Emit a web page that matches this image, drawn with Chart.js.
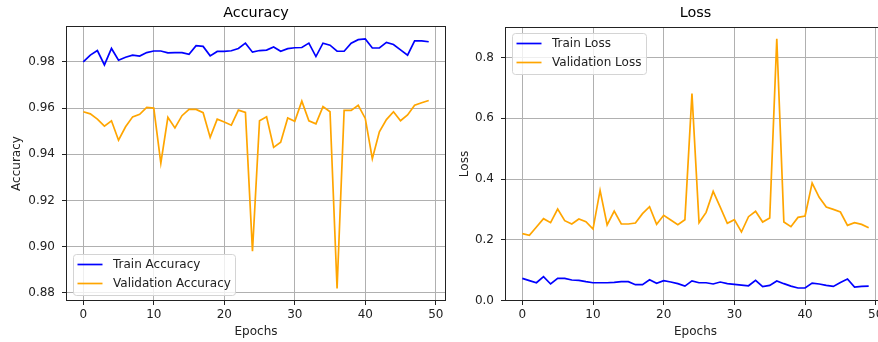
<!DOCTYPE html>
<html>
<head>
<meta charset="utf-8">
<title>Accuracy / Loss</title>
<script src="https://cdn.jsdelivr.net/npm/chart.js@4.4.1/dist/chart.umd.min.js"></script>
<style>
  html, body { margin: 0; padding: 0; background: #fff; overflow: hidden; }
  #accChart { position: absolute; left: 0; top: 0; }
  #lossChart { position: absolute; left: 452px; top: 0; }
</style>
</head>
<body>
<canvas id="accChart" width="452" height="342"></canvas>
<canvas id="lossChart" width="438" height="342"></canvas>
<script>
// epochs 0..49
const epochs = [0, 1, 2, 3, 4, 5, 6, 7, 8, 9,
    10, 11, 12, 13, 14, 15, 16, 17, 18, 19,
    20, 21, 22, 23, 24, 25, 26, 27, 28, 29,
    30, 31, 32, 33, 34, 35, 36, 37, 38, 39,
    40, 41, 42, 43, 44, 45, 46, 47, 48, 49];

const trainAcc = [0.9800, 0.9829, 0.9849, 0.9787, 0.9858, 0.9807, 0.9820, 0.9829, 0.9825, 0.9840,
    0.9847, 0.9847, 0.9839, 0.9840, 0.9840, 0.9833, 0.9870, 0.9867, 0.9826, 0.9845,
    0.9845, 0.9848, 0.9858, 0.9881, 0.9842, 0.9849, 0.9851, 0.9864, 0.9846, 0.9857,
    0.9861, 0.9862, 0.9881, 0.9823, 0.9881, 0.9872, 0.9846, 0.9846, 0.9881, 0.9896,
    0.9899, 0.9860, 0.9860, 0.9884, 0.9875, 0.9852, 0.9829, 0.9891, 0.9891, 0.9887];

const valAcc = [0.9584, 0.9575, 0.9552, 0.9522, 0.9545, 0.9461, 0.9519, 0.9562, 0.9573, 0.9603,
    0.9600, 0.9362, 0.9560, 0.9514, 0.9567, 0.9594, 0.9594, 0.9580, 0.9473, 0.9552,
    0.9540, 0.9526, 0.9591, 0.9581, 0.8981, 0.9545, 0.9562, 0.9430, 0.9452, 0.9557,
    0.9543, 0.9630, 0.9545, 0.9532, 0.9606, 0.9584, 0.8819, 0.9590, 0.9590, 0.9612,
    0.9555, 0.9381, 0.9497, 0.9550, 0.9584, 0.9545, 0.9570, 0.9612, 0.9623, 0.9633];

const trainLoss = [0.0735, 0.0660, 0.0590, 0.0790, 0.0550, 0.0735, 0.0735, 0.0680, 0.0670, 0.0625,
    0.0590, 0.0590, 0.0590, 0.0600, 0.0625, 0.0625, 0.0526, 0.0526, 0.0690, 0.0570,
    0.0660, 0.0614, 0.0560, 0.0480, 0.0650, 0.0590, 0.0590, 0.0550, 0.0614, 0.0560,
    0.0537, 0.0515, 0.0490, 0.0670, 0.0460, 0.0504, 0.0650, 0.0560, 0.0480, 0.0417,
    0.0417, 0.0580, 0.0550, 0.0504, 0.0470, 0.0600, 0.0712, 0.0450, 0.0470, 0.0480];

const valLoss = [0.2204, 0.2149, 0.2423, 0.2697, 0.2566, 0.3015, 0.2632, 0.2522, 0.2686, 0.2599,
    0.2357, 0.3629, 0.2490, 0.2950, 0.2522, 0.2522, 0.2555, 0.2862, 0.3092, 0.2510,
    0.2807, 0.2654, 0.2500, 0.2664, 0.6810, 0.2566, 0.2905, 0.3596, 0.3080, 0.2544,
    0.2664, 0.2259, 0.2763, 0.2939, 0.2588, 0.2719, 0.8610, 0.2588, 0.2434, 0.2740,
    0.2785, 0.3870, 0.3400, 0.3080, 0.3004, 0.2917, 0.2478, 0.2566, 0.2510, 0.2401];

const xTicks = [0, 10, 20, 30, 40, 50];
const accTicks = [0.88, 0.90, 0.92, 0.94, 0.96, 0.98];
const lossTicks = [0.0, 0.2, 0.4, 0.6, 0.8];

Chart.defaults.font.family = '"DejaVu Sans", sans-serif';
Chart.defaults.color = '#222';

const TEXT = '#222';
const GRID = '#b0b0b0';
const FONT_SIZE = 12;

// four black spines round the plot area, like matplotlib
const frame = {
    id: 'frame',
    afterDatasetsDraw(chart) {
        const a = chart.chartArea;
        const ctx = chart.ctx;
        ctx.save();
        ctx.strokeStyle = '#222';
        ctx.lineWidth = 1;
        ctx.strokeRect(Math.round(a.left) + 0.5, Math.round(a.top) + 0.5,
            Math.round(a.right - a.left) - 1, Math.round(a.bottom - a.top) - 1);
        ctx.restore();
    }
};

// legend box drawn inside the plot area
const insideLegend = {
    id: 'insideLegend',
    afterDraw(chart, args, opts) {
        const a = chart.chartArea;
        const ctx = chart.ctx;
        const sets = chart.data.datasets;
        ctx.save();
        ctx.font = FONT_SIZE + 'px "DejaVu Sans", sans-serif';
        const textW = Math.max(...sets.map((d) => ctx.measureText(d.label).width));
        const w = Math.round(39.5 + textW + 5);
        const h = 41;
        const x = Math.round(a.left + 7) + 0.5;
        const y = opts.corner === 'upper' ? Math.round(a.top + 6) + 0.5 : Math.round(a.bottom - 6 - h) + 0.5;
        ctx.fillStyle = 'rgba(255,255,255,0.8)';
        ctx.strokeStyle = '#d4d4d4';
        ctx.lineWidth = 1;
        ctx.beginPath();
        ctx.roundRect(x, y, w, h, 3);
        ctx.fill();
        ctx.stroke();
        sets.forEach((d, i) => {
            const cy = y + 10 + i * 19;
            ctx.strokeStyle = d.borderColor;
            ctx.lineWidth = 1.7;
            ctx.beginPath();
            ctx.moveTo(x + 4, cy);
            ctx.lineTo(x + 29, cy);
            ctx.stroke();
            ctx.fillStyle = TEXT;
            ctx.textBaseline = 'middle';
            ctx.fillText(d.label, x + 39.5, cy);
        });
        ctx.restore();
    }
};

function points(values) {
    return values.map((v, i) => ({ x: epochs[i], y: v }));
}

function makeChart(id, cfg) {
    return new Chart(document.getElementById(id), {
        type: 'line',
        data: {
            datasets: [
                {
                    label: cfg.labels[0],
                    data: points(cfg.train),
                    borderColor: '#0000ff',
                    borderWidth: 1.7,
                    pointRadius: 0,
                    tension: 0,
                },
                {
                    label: cfg.labels[1],
                    data: points(cfg.val),
                    borderColor: '#ffa500',
                    borderWidth: 1.7,
                    pointRadius: 0,
                    tension: 0,
                },
            ],
        },
        options: {
            responsive: false,
            animation: false,
            devicePixelRatio: 1,
            layout: { padding: { left: 0, right: cfg.padRight, top: 0, bottom: 0 } },
            plugins: {
                legend: { display: false },
                tooltip: { enabled: false },
                title: {
                    display: true,
                    text: cfg.title,
                    fullSize: false,
                    color: '#000',
                    font: { size: 14.4, weight: 'normal' },
                    padding: { top: 4.8, bottom: cfg.titleBottom },
                },
                insideLegend: { corner: cfg.corner },
            },
            scales: {
                x: {
                    type: 'linear',
                    min: -2.45,
                    max: 51.45,
                    afterFit: (s) => { s.height = 41; },
                    afterBuildTicks: (s) => { s.ticks = xTicks.map((v) => ({ value: v })); },
                    ticks: { color: TEXT, font: { size: FONT_SIZE }, padding: 2.8, maxRotation: 0,
                        callback: (v) => String(v) },
                    grid: { color: GRID, tickColor: '#222', tickLength: 4, lineWidth: 1 },
                    border: { display: false },
                    title: { display: true, text: 'Epochs', color: TEXT, font: { size: FONT_SIZE },
                        padding: { top: 0, bottom: 3.3 } },
                },
                y: {
                    type: 'linear',
                    min: cfg.yMin,
                    max: cfg.yMax,
                    afterFit: (s) => { s.width = cfg.yWidth; },
                    afterBuildTicks: (s) => { s.ticks = cfg.yTicks.map((v) => ({ value: v })); },
                    ticks: { color: TEXT, font: { size: FONT_SIZE }, padding: 7,
                        callback: (v) => v.toFixed(cfg.digits) },
                    grid: { color: GRID, tickColor: '#222', tickLength: 4, lineWidth: 1 },
                    border: { display: false },
                    title: { display: true, text: cfg.yTitle, color: TEXT, font: { size: FONT_SIZE },
                        padding: { top: cfg.yTitlePad, bottom: 0 } },
                },
            },
        },
        plugins: [frame, insideLegend],
    });
}

makeChart('accChart', {
    title: 'Accuracy',
    yTitle: 'Accuracy',
    labels: ['Train Accuracy', 'Validation Accuracy'],
    train: trainAcc,
    val: valAcc,
    yMin: 0.8765,
    yMax: 0.9955,
    yTicks: accTicks,
    digits: 2,
    yWidth: 66,
    yTitlePad: 9.3,
    padRight: 6,
    titleBottom: 3.96,
    corner: 'lower',
});

makeChart('lossChart', {
    title: 'Loss',
    yTitle: 'Loss',
    labels: ['Train Loss', 'Validation Loss'],
    train: trainLoss,
    val: valLoss,
    yMin: -0.001,
    yMax: 0.9,
    yTicks: lossTicks,
    digits: 1,
    yWidth: 53,
    yTitlePad: 5.5,
    padRight: 4,
    titleBottom: 4.96,
    corner: 'upper',
});
</script>
</body>
</html>
